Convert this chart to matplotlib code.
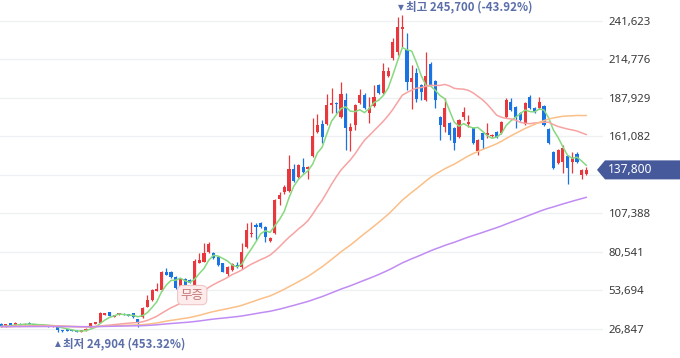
import numpy as np
import pandas as pd
import matplotlib
matplotlib.use("Agg")
import matplotlib.pyplot as plt
from matplotlib.patches import Polygon

# ---------------- data ----------------
opens = [30500, 28800, 30700, 29800, 30500, 29700, 31200, 30000, 29000, 28900,
         29300, 28500, 28400, 25800, 26100, 25900, 25500, 25000, 26000, 27700,
         30200, 31000, 36800, 38400, 35500, 37000, 37600, 37300, 37800, 33600,
         35000, 42400, 47000, 53500, 54000, 66600, 66600, 63300, 56300, 61700,
         61000, 57500, 73100, 73800, 80700, 79600, 77200, 72700, 65200, 68000,
         71500, 69900, 84000, 93000, 99400, 100800, 98000, 88200, 93800, 117500,
         122400, 123100, 138400, 132800, 139800, 138400, 147500, 164200, 169800, 169800,
         183000, 184400, 174700, 186500, 164900, 169100, 184400, 190000, 177500, 182300,
         197000, 191400, 203300, 215800, 220000, 236000, 221400, 199100, 205400, 197000,
         186500, 211600, 199800, 174700, 167700, 170500, 167000, 160700, 174700, 169800,
         167000, 151000, 163500, 162100, 161400, 164200, 163500, 174700, 185100, 181600,
         177500, 169800, 188600, 181000, 181000, 182300, 166300, 150300, 142600, 143300,
         147500, 143300, 148900, 134200, 135000]
highs = [31000, 30500, 31200, 31800, 30800, 30900, 31600, 30300, 29600, 29700,
         29600, 29200, 28800, 26100, 26400, 26200, 25800, 25900, 27300, 31200,
         32000, 38800, 38200, 39000, 36700, 38000, 37900, 37500, 38200, 34000,
         42000, 50500, 54500, 59100, 67500, 69200, 67000, 64000, 62200, 62500,
         61500, 75600, 79600, 87000, 87500, 80500, 78000, 73000, 71000, 73000,
         73600, 86800, 100800, 101500, 100800, 101500, 98500, 91000, 117500, 122400,
         127000, 148200, 141900, 141900, 146100, 140500, 174000, 176800, 172600, 190700,
         194900, 185100, 199100, 191400, 170500, 184000, 194200, 191400, 188600, 197000,
         197700, 212300, 209500, 229800, 244400, 245700, 233200, 210900, 209000, 197700,
         220000, 213000, 200500, 175400, 187900, 171200, 168000, 173300, 181600, 176100,
         167700, 159300, 164000, 170500, 162800, 164900, 171900, 187900, 187900, 182300,
         178200, 185100, 190000, 181600, 188600, 183000, 167000, 151000, 152400, 155200,
         148200, 150300, 150300, 138400, 139800]
lows = [28300, 28500, 29300, 29500, 29200, 29400, 30000, 29100, 28700, 28600,
        28500, 28200, 24904, 25000, 25300, 25200, 24950, 24950, 25800, 27500,
        30000, 30800, 36500, 35800, 35200, 36800, 36300, 35800, 34700, 28500,
        34800, 42000, 46500, 53000, 53500, 64300, 62500, 54500, 55000, 57000,
        58700, 56100, 72800, 73300, 80000, 75500, 71000, 66300, 63500, 67500,
        69400, 69000, 83500, 91000, 88900, 97500, 87500, 87500, 93100, 113300,
        121000, 122500, 129500, 132000, 135600, 131400, 146800, 163500, 156500, 169000,
        177500, 177500, 174000, 151700, 151000, 165600, 183700, 180000, 170500, 181600,
        190700, 190700, 202500, 214500, 218000, 223500, 193500, 180300, 185100, 186500,
        185800, 196000, 181000, 158600, 164200, 158600, 151700, 160000, 172600, 167700,
        155800, 148200, 152400, 160000, 160700, 160000, 162800, 174000, 178900, 167000,
        171900, 169100, 180300, 177500, 180300, 168400, 155800, 138400, 141900, 135600,
        128000, 135600, 142600, 131400, 134200]
closes = [28800, 30100, 29600, 31300, 29500, 30500, 30400, 29400, 29300, 29400,
          28800, 28900, 26000, 25400, 25700, 25500, 25000, 25600, 27000, 30800,
          31600, 38300, 37800, 36200, 36400, 37800, 36500, 36000, 35000, 31800,
          41500, 47000, 54000, 54900, 66600, 64700, 63300, 55200, 61700, 57500,
          59100, 74300, 75000, 79600, 86100, 76200, 71500, 66800, 70300, 72200,
          70100, 80700, 95900, 93800, 98000, 98000, 91000, 90300, 116800, 120300,
          126100, 138400, 130000, 141200, 136300, 139800, 161400, 169100, 160700, 183000,
          184400, 183700, 190700, 167000, 167700, 183000, 190000, 181000, 181000, 188600,
          191400, 206800, 206800, 227000, 237400, 237400, 199100, 201900, 187200, 192100,
          203300, 197000, 186500, 169100, 181000, 162100, 156500, 172600, 178200, 171200,
          156500, 158600, 158600, 163500, 162100, 160700, 171200, 186500, 179600, 174700,
          172600, 184400, 181000, 178200, 185100, 169100, 156500, 139100, 151700, 153100,
          139100, 146100, 143300, 138000, 137800]

ma_periods = [5, 20, 60, 120]
ma_colors = ["#86d97e", "#f7a3a3", "#fbbf88", "#c08cf3"]
pre_window_close = 28500          # level the 60/120-day lines start from (left edge)

y_ticks = [26847, 53694, 80541, 107388, 134235, 161082, 187929, 214776, 241623]
hidden_tick = 134235              # label covered by the current-price tag
high_text = "최고 245,700 (-43.92%)"
low_text = "최저 24,904 (453.32%)"
event_text = "무증"
event_index = 40.5

UP = "#e8383d"
DOWN = "#1a73e3"
LABEL_BLUE = "#5b6ea9"
TAG_BLUE = "#45599b"

plt.rcParams["font.family"] = ["Noto Sans CJK KR", "DejaVu Sans"]

W, H = 680, 358
fig = plt.figure(figsize=(W / 100, H / 100), dpi=100)
ax = fig.add_axes([0, 0, 603 / W, 1])
ax.set_xlim(-0.21, 127.5)
ax.set_ylim(6625, 256259)

n = len(closes)
idx = np.arange(n)
o = np.array(opens, float); c = np.array(closes, float)
h = np.array(highs, float); l = np.array(lows, float)
up = c >= o
colors = np.where(up, UP, DOWN)

# candles
ax.vlines(idx, l, h, colors=colors, lw=0.9, zorder=2)
body_bottom = np.minimum(o, c)
body_h = np.maximum(np.abs(c - o), 900)
ax.bar(idx, body_h, bottom=body_bottom, width=0.66, color=colors, lw=0, zorder=2)

# moving averages
hist = pd.Series(np.concatenate([np.full(max(ma_periods) - 1, pre_window_close), c]))
for p, col in zip(ma_periods, ma_colors):
    ma = hist.rolling(p).mean().values[-n:]
    ax.plot(idx, ma, color=col, lw=1.1, zorder=3, solid_capstyle="round")

# axes styling
for s in ax.spines.values():
    s.set_visible(False)
ax.set_xticks([])
ax.set_yticks(y_ticks)
ax.set_yticklabels(["" if v == hidden_tick else f"{v:,}" for v in y_ticks])
ax.yaxis.tick_right()
ax.tick_params(axis="y", length=0, pad=4, labelsize=8.2, labelcolor="#3a3a3a")
for t in ax.get_yticklabels():
    t.set_fontfamily(["Noto Sans", "DejaVu Sans"])
ax.grid(axis="y", color="#eef0f4", lw=1.0, zorder=0)
ax.set_axisbelow(True)

# high / low markers
hi = int(np.argmax(h)); lo = int(np.argmin(l))
ax.annotate("▼", xy=(hi, h[hi]), xytext=(-4, 8), textcoords="offset pixels",
            ha="left", va="center", fontsize=5.5, color=LABEL_BLUE, family=["DejaVu Sans"])
ax.annotate(high_text, xy=(hi, h[hi]), xytext=(4, 8), textcoords="offset pixels",
            ha="left", va="center", fontsize=8.3, color=LABEL_BLUE, fontweight="bold")
ax.annotate("▲", xy=(lo, l[lo]), xytext=(-3, -12), textcoords="offset pixels",
            ha="left", va="center", fontsize=5.5, color=LABEL_BLUE, family=["DejaVu Sans"])
ax.annotate(low_text, xy=(lo, l[lo]), xytext=(5, -12), textcoords="offset pixels",
            ha="left", va="center", fontsize=8.3, color=LABEL_BLUE, fontweight="bold")

# event label
ax.text(event_index, 50500, event_text, ha="center", va="center", fontsize=9,
        color="#c47878", zorder=5,
        bbox=dict(boxstyle="round,pad=0.25,rounding_size=0.4", fc="#fdeceb",
                  ec="#f1c6c6", lw=0.8))

# current price tag
fig.canvas.draw()
yd = ax.transData.transform((0, c[-1]))[1]
tag = Polygon([(597, yd), (605, yd + 9.5), (680, yd + 9.5), (680, yd - 9.5), (605, yd - 9.5)],
              closed=True, transform=None, fc=TAG_BLUE, ec="none", zorder=10)
fig.add_artist(tag)
fig.text(608 / W, yd / H, f"{int(c[-1]):,}", ha="left", va="center", color="white",
         fontsize=8.6, family=["Noto Sans", "DejaVu Sans"], zorder=11)

fig.savefig("out.png", dpi=100)
